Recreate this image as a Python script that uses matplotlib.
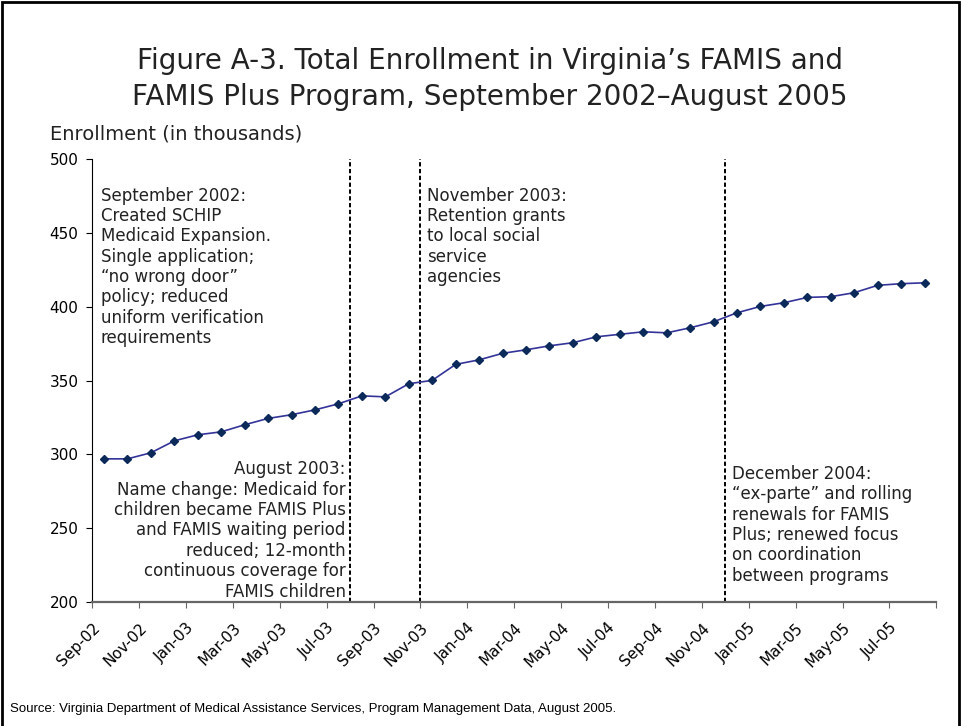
import numpy as np
import pandas as pd
import matplotlib
matplotlib.use("Agg")
import matplotlib.pyplot as plt
from matplotlib.patches import Rectangle

plt.rcParams['font.family'] = ['DejaVu Sans']

months = list(pd.date_range('2002-09-01', periods=36, freq='MS').strftime('%b-%y'))
enrollment = [297.0, 297.0, 301.1, 309.2, 313.3, 315.3, 320.1, 324.4, 326.9, 330.2,
              334.3, 339.7, 339.0, 347.9, 350.2, 361.0, 364.1, 368.5, 370.9, 373.6,
              375.7, 379.7, 381.4, 383.1, 382.4, 385.8, 389.9, 396.0, 400.3, 402.8,
              406.4, 406.9, 409.6, 414.6, 415.7, 416.3]
event_months = ['Aug-03', 'Nov-03', 'Dec-04']
yticks = [200, 250, 300, 350, 400, 450, 500]

note_sep02 = ("September 2002:\nCreated SCHIP\nMedicaid Expansion.\nSingle application;\n"
              "\u201cno wrong door\u201d\npolicy; reduced\nuniform verification\nrequirements")
note_nov03 = "November 2003:\nRetention grants\nto local social\nservice\nagencies"
note_aug03 = ("August 2003:\nName change: Medicaid for\nchildren became FAMIS Plus\n"
              "and FAMIS waiting period\nreduced; 12-month\ncontinuous coverage for\nFAMIS children")
note_dec04 = ("December 2004:\n\u201cex-parte\u201d and rolling\nrenewals for FAMIS\n"
              "Plus; renewed focus\non coordination\nbetween programs")

fig = plt.figure(figsize=(9.61, 7.26), dpi=100)
ax = fig.add_axes([0.0960, 0.1708, 0.8783, 0.6098])

x = np.arange(len(months))
ax.plot(x, enrollment, color='#333399', lw=1.2, marker='D', ms=4.5,
        mfc='#0b2a5a', mec='#0b2a5a', zorder=3)

# policy changes, drawn on the boundary before the month they start
for m in event_months:
    ax.axvline(months.index(m) - 0.5, color='black', lw=1.4, dashes=(2.2, 1.3), zorder=2)

ax.set_xlim(-0.5, len(months) - 0.5)
ax.set_ylim(200, 500)
ax.set_yticks(yticks)
ax.set_xticks(np.arange(-0.5, len(months), 2))
ax.set_xticklabels(months[::2] + [''], rotation=45, ha='right', va='top',
                   rotation_mode='anchor', fontsize=11)
ax.tick_params(axis='x', length=4, color='#666666', pad=9)
ax.tick_params(axis='y', length=4, color='black', labelsize=11, pad=6)

for s in ['top', 'right']:
    ax.spines[s].set_visible(False)
ax.spines['left'].set_color('black')
ax.spines['bottom'].set_color('#666666')
ax.spines['bottom'].set_linewidth(1.6)

txt = dict(fontsize=12, color='#222222', linespacing=1.17, va='top')
ax.text(-0.13, 481.5, note_sep02, ha='left', **txt)
ax.text(13.78, 481.5, note_nov03, ha='left', **txt)
ax.text(10.31, 296, note_aug03, ha='right', multialignment='right', **txt)
ax.text(26.79, 293, note_dec04, ha='left', **txt)

fig.text(0.51, 1 - 79 / 726, "Figure A-3. Total Enrollment in Virginia\u2019s FAMIS and\n"
         "FAMIS Plus Program, September 2002\u2013August 2005",
         ha='center', va='center', fontsize=20, linespacing=1.32, color='#222222')
fig.text(50 / 961, 1 - 139 / 726, "Enrollment (in thousands)", ha='left', va='baseline',
         fontsize=14, color='#222222')
fig.text(10 / 961, 1 - 712 / 726,
         "Source: Virginia Department of Medical Assistance Services, Program Management Data, August 2005.",
         ha='left', va='baseline', fontsize=9.5, family=['Liberation Sans Narrow', 'Liberation Sans'],
         color='black')

fig.add_artist(Rectangle((0.002, -0.01), 0.996, 1.007, transform=fig.transFigure,
                         fill=False, lw=2, edgecolor='black'))

fig.savefig('out.png', dpi=100)
